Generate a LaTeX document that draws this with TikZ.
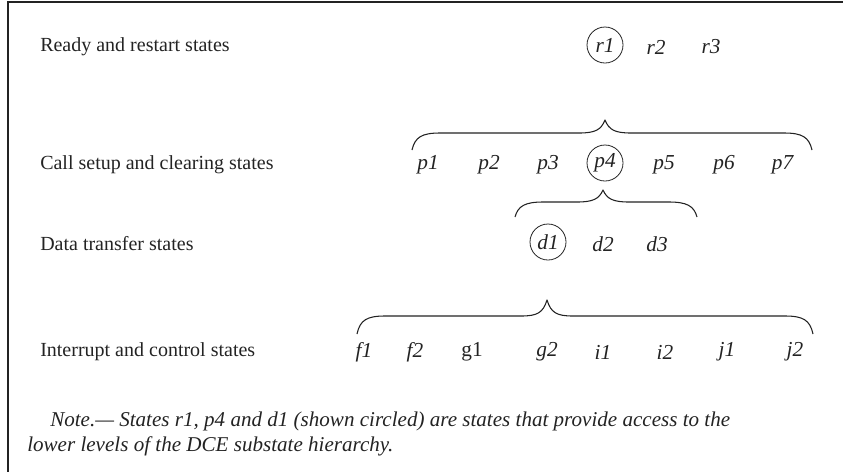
\documentclass[tikz,border=0pt]{standalone}
\usepackage{fontspec}
\setmainfont{Liberation Serif}
\usetikzlibrary{positioning}
\definecolor{ink}{RGB}{35,35,35}

\begin{document}
\begin{tikzpicture}[x=0.75pt, y=-0.75pt, font=\fontsize{15}{18}\selectfont,
  rowlabel/.style={anchor=west, inner sep=0pt, text=ink},
  state/.style={inner sep=0pt, text=ink, font=\fontsize{16}{19}\selectfont},
  access/.style={state, draw=ink, circle, minimum size=27pt, line width=0.6pt},
  grouping/.style={draw=ink, line width=0.8pt, line join=round}]
\useasboundingbox (0,0) rectangle (843,472);
\draw[ink, line width=1.5pt] (843,2) -- (8,2) -- (8,472);
% level labels
\node[rowlabel] (lready) at (40,47) {Ready and restart states};
\node[rowlabel] (lcall) at (40,165) {Call setup and clearing states};
\node[rowlabel] (ldata) at (40,244) {Data transfer states};
\node[rowlabel] (lint) at (40,352) {Interrupt and control states};
% states
\node[access] (r1) at (605,45) {\textit{r1}};
\foreach \n/\x in {2/656, 3/711}
  \node[state] (r\n) at (\x,47) {\textit{r\n}};
\node[access] (p4) at (605,163) {\textit{p4}};
\foreach \n/\x in {1/428, 2/489, 3/548, 5/664, 6/724, 7/783}
  \node[state] (p\n) at (\x,165) {\textit{p\n}};
\node[access] (d1) at (548,242) {\textit{d1}};
\foreach \n/\x in {2/603, 3/657}
  \node[state] (d\n) at (\x,244) {\textit{d\n}};
\foreach \s/\x in {f1/364, f2/415, g2/547, i1/603, i2/665, j1/727, j2/795}
  \node[state] (\s) at (\x,352) {\textit{\s}};
\node[state] (g1) at (472,352) {g1};
% braces
\foreach \xa/\xt/\xb/\ye/\yb/\yt in {412/605/812/150/133/120,
    515/603/697/217/202/190, 357/547/813/334/316/300}
  \draw[grouping] (\xa,\ye) .. controls (\xa+3,\yb+4) and (\xa+10,\yb) .. (\xa+28,\yb)
    -- (\xt-26,\yb) .. controls (\xt-10,\yb) and (\xt-4,\yb-3) .. (\xt,\yt)
    .. controls (\xt+4,\yb-3) and (\xt+10,\yb) .. (\xt+26,\yb)
    -- (\xb-28,\yb) .. controls (\xb-10,\yb) and (\xb-3,\yb+4) .. (\xb,\ye);
% note
\node[rowlabel, font=\fontsize{15.8}{19}\selectfont\itshape] (note1) at (50,421)
  {Note.— States r1, p4 and d1 (shown circled) are states that provide access to the};
\node[rowlabel, font=\fontsize{15.8}{19}\selectfont\itshape] (note2) at (27,446)
  {lower levels of the DCE substate hierarchy.};
\end{tikzpicture}
\end{document}
